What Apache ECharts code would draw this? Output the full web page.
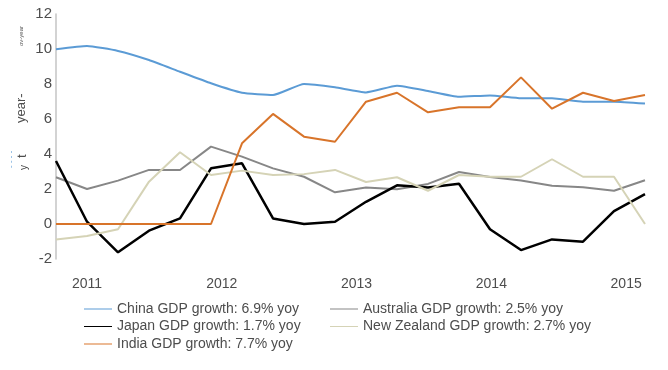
<!DOCTYPE html>
<html>
<head>
<meta charset="utf-8">
<script src="https://cdn.jsdelivr.net/npm/echarts@6/dist/echarts.min.js"></script>
<style>
  html, body { margin: 0; padding: 0; background: #fff; }
  #chart { width: 668px; height: 370px; }
</style>
</head>
<body>
<div id="chart"></div>
<script>
// Point dates (decimal years)
const dates = [2010.77, 2011.00, 2011.23, 2011.46, 2011.69, 2011.92, 2012.15, 2012.38, 2012.61, 2012.84,
               2013.07, 2013.30, 2013.53, 2013.76, 2013.99, 2014.22, 2014.45, 2014.68, 2014.91, 2015.14];
const yearTicks = [2011, 2012, 2013, 2014, 2015];

const seriesNames = [
  'China GDP growth: 6.9% yoy',
  'Australia GDP growth: 2.5% yoy',
  'Japan GDP growth: 1.7% yoy',
  'New Zealand GDP growth: 2.7% yoy',
  'India GDP growth: 7.7% yoy'
];

const china     = [9.98, 10.17, 9.89, 9.37, 8.70, 8.04, 7.50, 7.37, 8.00, 7.81, 7.52, 7.90, 7.60, 7.27, 7.35, 7.18, 7.18, 6.99, 6.99, 6.88];
const australia = [2.67, 2.00, 2.48, 3.09, 3.09, 4.42, 3.85, 3.18, 2.70, 1.81, 2.08, 1.98, 2.29, 2.97, 2.69, 2.48, 2.19, 2.10, 1.90, 2.50];
const japan     = [3.60, 0.13, -1.62, -0.38, 0.32, 3.18, 3.47, 0.32, 0.00, 0.13, 1.27, 2.21, 2.08, 2.30, -0.30, -1.49, -0.88, -1.01, 0.74, 1.71];
const newZealand= [-0.88, -0.69, -0.30, 2.42, 4.10, 2.80, 3.05, 2.80, 2.85, 3.09, 2.40, 2.67, 1.90, 2.80, 2.70, 2.70, 3.70, 2.70, 2.70, 0.00];
const india     = [0, 0, 0, 0, 0, 0, 4.61, 6.29, 4.99, 4.70, 6.99, 7.50, 6.38, 6.67, 6.67, 8.38, 6.59, 7.50, 7.03, 7.37];

const yMin = -2, yMax = 12, yStep = 2;

const colors = ['#5b9bd5', '#878787', '#000000', '#d5d3b6', '#d8742a'];
const values = [china, australia, japan, newZealand, india];
const widths = [2, 2, 2.5, 2, 2];

const chart = echarts.init(document.getElementById('chart'), null, { renderer: 'canvas' });

const series = values.map((vals, k) => ({
  name: seriesNames[k],
  type: 'line',
  data: vals.map((v, i) => [dates[i], v]),
  symbol: 'none',
  smooth: k === 0 ? 0.15 : false,
  lineStyle: { color: colors[k], width: widths[k] },
  itemStyle: { color: colors[k] },
  z: 2 + k
}));

const lineIcon = 'path://M0,0H28V1H0Z';
const legendText = { color: '#4d4d4d', fontSize: 14, fontFamily: 'Liberation Sans, Arial, sans-serif' };

chart.setOption({
  animation: false,
  backgroundColor: '#ffffff',
  textStyle: { fontFamily: 'Liberation Sans, Arial, sans-serif' },
  grid: { left: 56, right: 23, top: 14, bottom: 111, containLabel: false },
  xAxis: {
    type: 'value',
    min: dates[0],
    max: dates[dates.length - 1],
    axisLine: { show: false },
    axisTick: { show: false },
    splitLine: { show: false },
    axisLabel: {
      customValues: yearTicks,
      formatter: v => String(Math.round(v)),
      color: '#4d4d4d',
      fontSize: 14,
      margin: 18
    }
  },
  yAxis: {
    type: 'value',
    min: yMin,
    max: yMax,
    interval: yStep,
    axisLine: { show: true, lineStyle: { color: '#c4c4c4', width: 1.5 } },
    axisTick: { show: false },
    splitLine: { show: false },
    axisLabel: { color: '#4d4d4d', fontSize: 15, margin: 4 }
  },
  legend: [
    {
      data: [seriesNames[0], seriesNames[2], seriesNames[4]],
      orient: 'vertical',
      left: 84, top: 302,
      padding: 0,
      itemWidth: 28, itemHeight: 14, itemGap: 3.5,
      icon: lineIcon,
      textStyle: legendText
    },
    {
      data: [seriesNames[1], seriesNames[3]],
      orient: 'vertical',
      left: 330, top: 302,
      padding: 0,
      itemWidth: 28, itemHeight: 14, itemGap: 3.5,
      icon: lineIcon,
      textStyle: legendText
    }
  ],
  graphic: [
    { type: 'text', x: 15, y: 123, rotation: Math.PI / 2,
      style: { text: 'year-', fill: '#4d4d4d', font: '13px Liberation Sans, Arial, sans-serif' } },
    { type: 'text', x: 18, y: 46, rotation: Math.PI / 2,
      style: { text: 'ov-year', fill: '#4d4d4d', font: '6px Liberation Sans, Arial, sans-serif' } },
    { type: 'text', x: 16, y: 158, rotation: Math.PI / 2,
      style: { text: 't', fill: '#4d4d4d', font: '13px Liberation Sans, Arial, sans-serif' } },
    { type: 'text', x: 19, y: 170, rotation: Math.PI / 2,
      style: { text: 'y', fill: '#4d4d4d', font: '10px Liberation Sans, Arial, sans-serif' } },
    { type: 'text', x: 7, y: 168, rotation: Math.PI / 2,
      style: { text: '- - - -', fill: '#5b9bd5', font: '8px Liberation Sans, Arial, sans-serif' } }
  ],
  series: series
});
</script>
</body>
</html>
